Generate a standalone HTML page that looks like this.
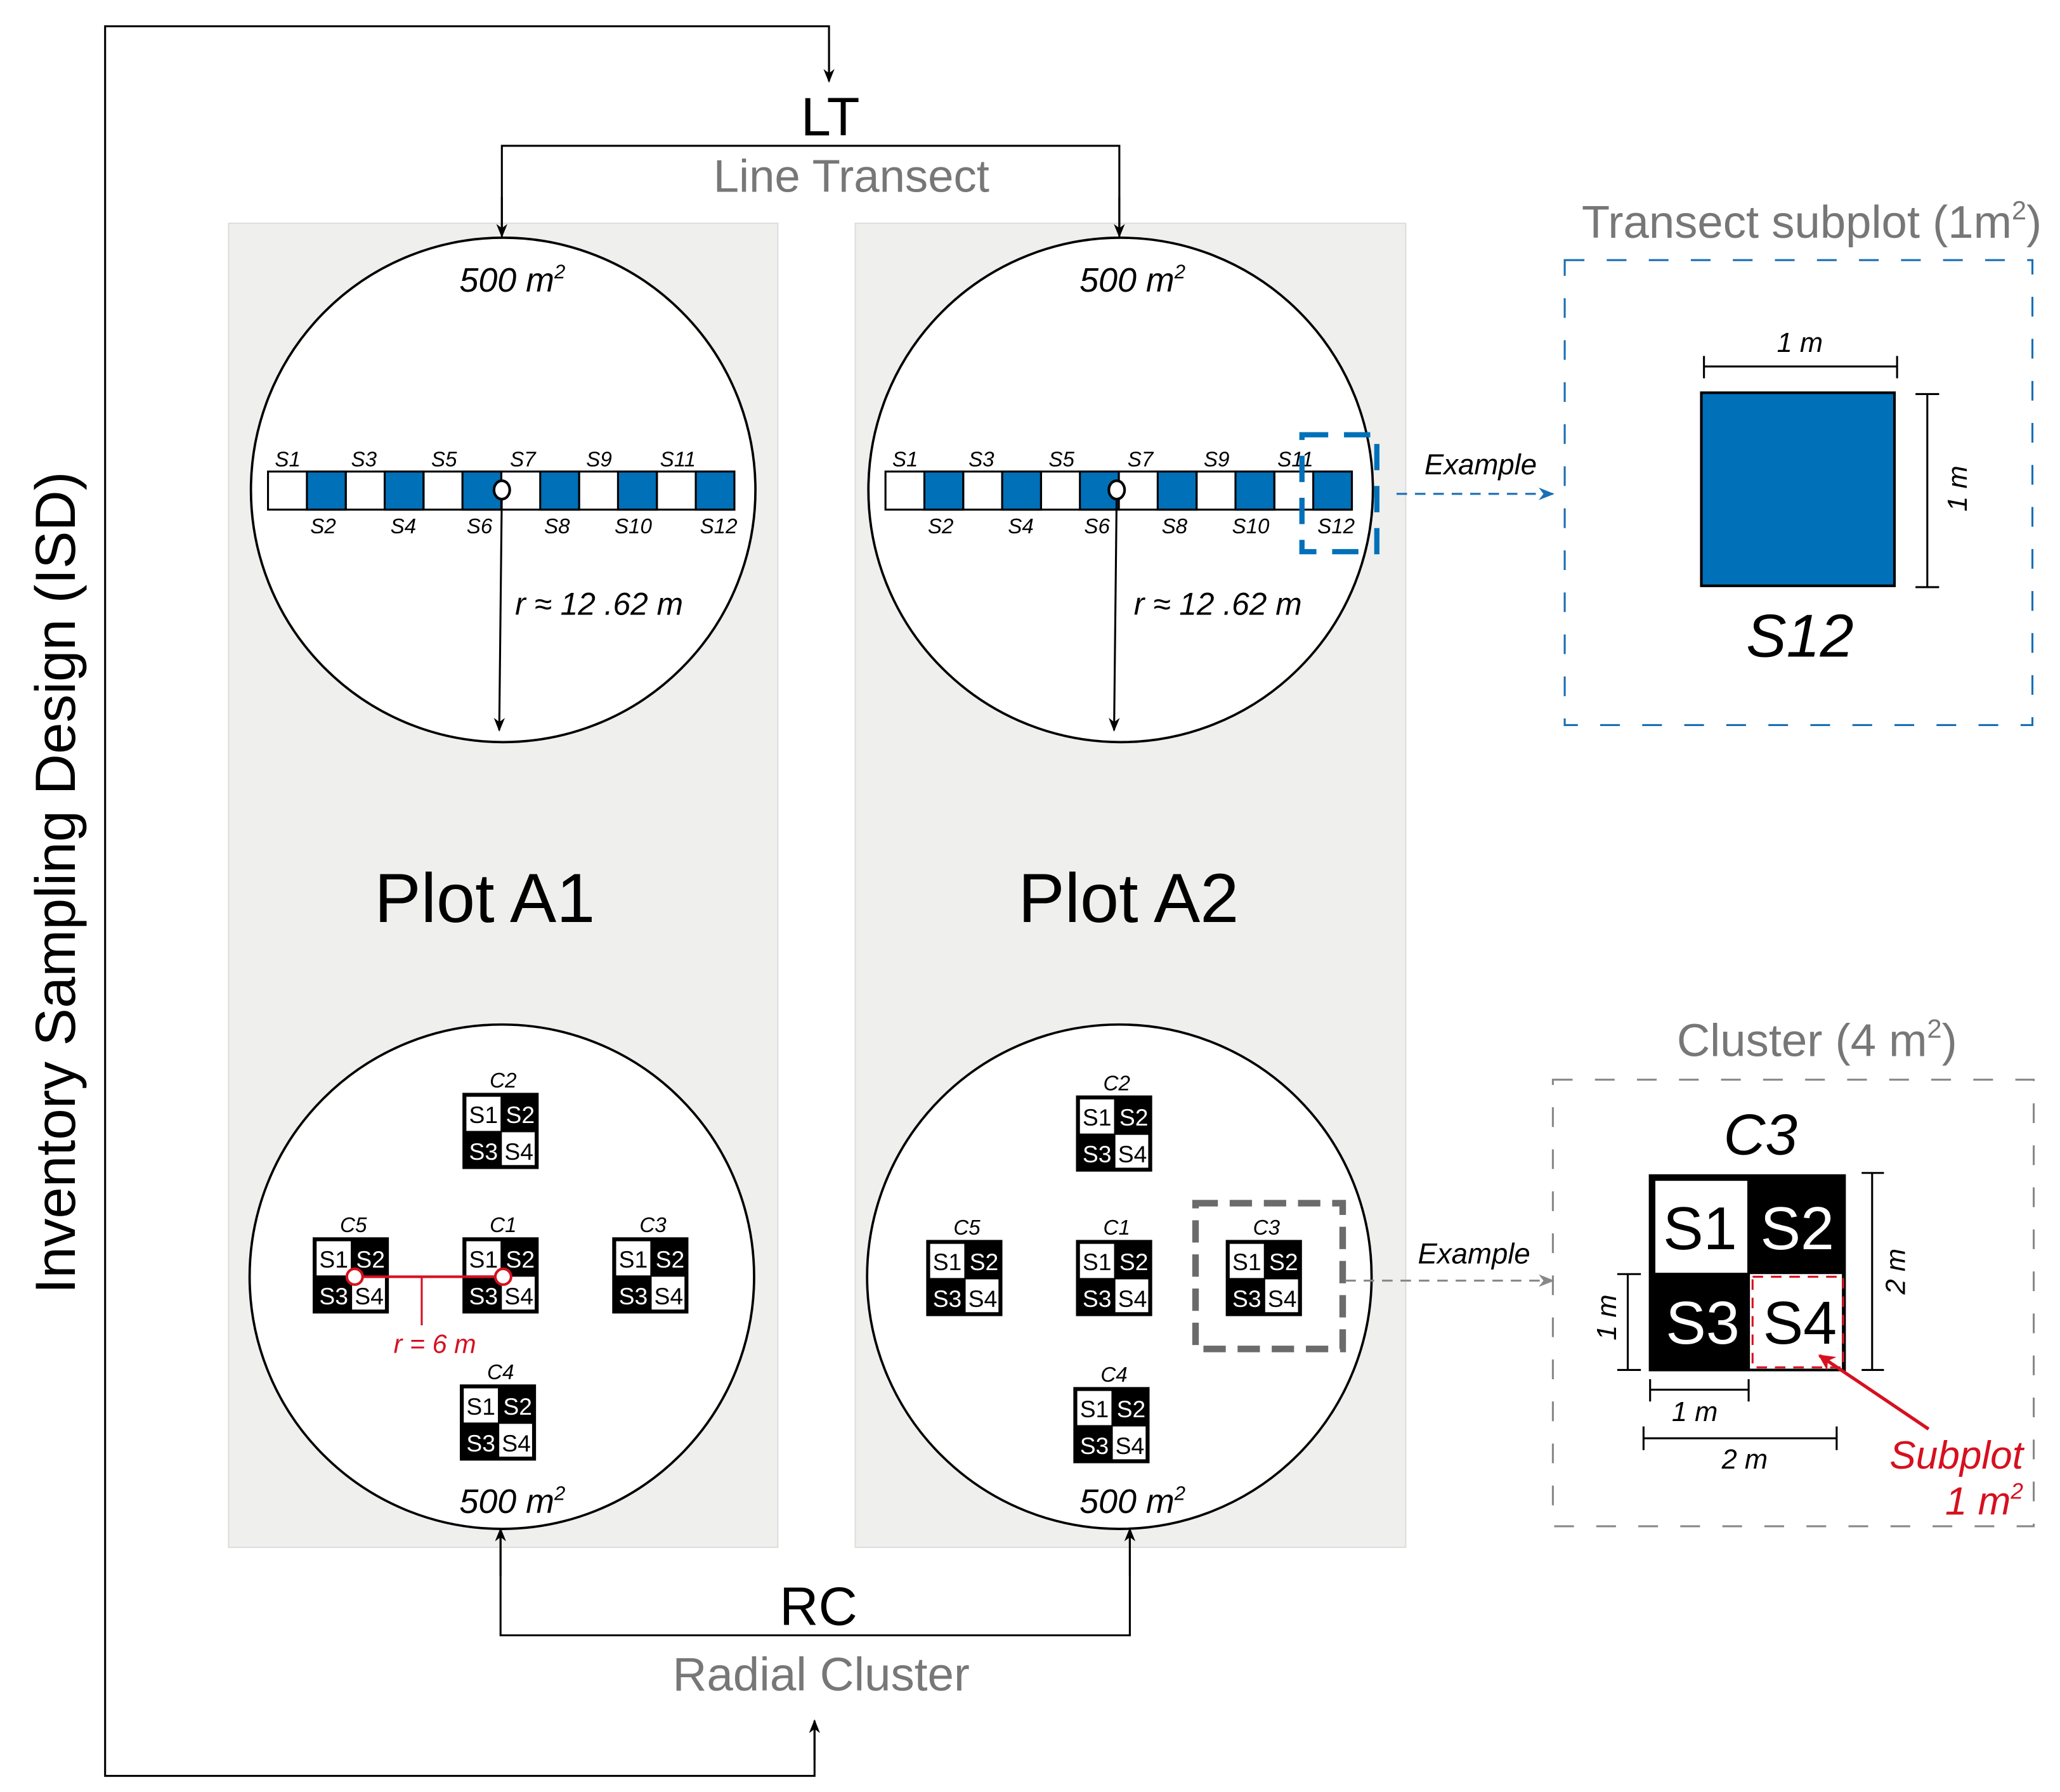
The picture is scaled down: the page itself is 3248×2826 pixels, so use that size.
<!DOCTYPE html>
<html><head><meta charset="utf-8"><style>html,body{margin:0;padding:0;background:#fff}svg{display:block}</style></head>
<body>
<svg width="3248" height="2826" viewBox="0 0 1568 1364.3" preserveAspectRatio="none" xmlns="http://www.w3.org/2000/svg" font-family="Liberation Sans, Arial, sans-serif">
<defs>
<marker id="ak" viewBox="0 0 10 10" refX="9" refY="5" markerWidth="7" markerHeight="7" orient="auto"><path d="M0,1 L10,5 L0,9 L3,5 z" fill="#000"/></marker>
<marker id="ab" viewBox="0 0 10 10" refX="9" refY="5" markerWidth="8" markerHeight="8" orient="auto"><path d="M0,1 L10,5 L0,9 L3,5 z" fill="#1a6fb5"/></marker>
<marker id="ag" viewBox="0 0 10 10" refX="9" refY="5" markerWidth="8" markerHeight="8" orient="auto"><path d="M0,1 L10,5 L0,9 L3,5 z" fill="#888"/></marker>
<marker id="ar" viewBox="0 0 10 10" refX="9" refY="5" markerWidth="5" markerHeight="5" orient="auto"><path d="M0,0 L10,5 L0,10 L3,5 z" fill="#d6101f"/></marker>
</defs>
<rect width="1568" height="1365" fill="#fff"/>
<rect x="174" y="170" width="418" height="1008" fill="#efefee" stroke="#ddd"/>
<rect x="651" y="170" width="419" height="1008" fill="#efefee" stroke="#ddd"/>
<polyline points="631,60 631,20 80,20 80,1352 620,1352 620,1310" fill="none" stroke="#000" stroke-width="1.5"/>
<line x1="631" y1="30" x2="631" y2="62" stroke="#000" stroke-width="1.5" marker-end="url(#ak)"/>
<line x1="620" y1="1340" x2="620" y2="1310" stroke="#000" stroke-width="1.5" marker-end="url(#ak)"/>
<text transform="translate(57,672) rotate(-90)" text-anchor="middle" font-size="43" fill="#000">Inventory Sampling Design (ISD)</text>
<text x="632" y="103" text-anchor="middle" font-size="41">LT</text>
<text x="648" y="146" text-anchor="middle" font-size="35" fill="#777">Line Transect</text>
<polyline points="382,178 382,111 852,111 852,178" fill="none" stroke="#000" stroke-width="1.5"/>
<line x1="382" y1="150" x2="382" y2="180" stroke="#000" stroke-width="1.5" marker-end="url(#ak)"/>
<line x1="852" y1="150" x2="852" y2="180" stroke="#000" stroke-width="1.5" marker-end="url(#ak)"/>
<text x="623" y="1237" text-anchor="middle" font-size="41">RC</text>
<text x="625" y="1287" text-anchor="middle" font-size="36" fill="#777">Radial Cluster</text>
<polyline points="381,1166 381,1245 860,1245 860,1166" fill="none" stroke="#000" stroke-width="1.5"/>
<line x1="381" y1="1200" x2="381" y2="1164" stroke="#000" stroke-width="1.5" marker-end="url(#ak)"/>
<line x1="860" y1="1200" x2="860" y2="1164" stroke="#000" stroke-width="1.5" marker-end="url(#ak)"/>

<circle cx="383" cy="373" r="192" fill="#fff" stroke="#000" stroke-width="1.8"/>
<circle cx="853" cy="373" r="192" fill="#fff" stroke="#000" stroke-width="1.8"/>
<circle cx="382" cy="972" r="192" fill="#fff" stroke="#000" stroke-width="1.8"/>
<circle cx="852" cy="972" r="192" fill="#fff" stroke="#000" stroke-width="1.8"/>
<text x="390" y="222" text-anchor="middle" font-size="26" font-style="italic">500 m<tspan font-size="15" dy="-10">2</tspan></text>
<text x="862" y="222" text-anchor="middle" font-size="26" font-style="italic">500 m<tspan font-size="15" dy="-10">2</tspan></text>
<text x="390" y="1152" text-anchor="middle" font-size="26" font-style="italic">500 m<tspan font-size="15" dy="-10">2</tspan></text>
<text x="862" y="1152" text-anchor="middle" font-size="26" font-style="italic">500 m<tspan font-size="15" dy="-10">2</tspan></text>
<text x="369" y="702" text-anchor="middle" font-size="53">Plot A1</text>
<text x="859" y="702" text-anchor="middle" font-size="53">Plot A2</text>

<g stroke="#000" stroke-width="1.5">
<rect x="204" y="359" width="355" height="29" fill="#fff"/>
<rect x="233.6" y="359" width="29.6" height="29" fill="#0070b8"/>
<rect x="292.8" y="359" width="29.6" height="29" fill="#0070b8"/>
<rect x="352" y="359" width="29.6" height="29" fill="#0070b8"/>
<rect x="411.2" y="359" width="29.6" height="29" fill="#0070b8"/>
<rect x="470.4" y="359" width="29.6" height="29" fill="#0070b8"/>
<rect x="529.6" y="359" width="29.4" height="29" fill="#0070b8"/>
<line x1="263.2" y1="359" x2="263.2" y2="388"/><line x1="322.4" y1="359" x2="322.4" y2="388"/><line x1="381.6" y1="359" x2="381.6" y2="388"/><line x1="440.8" y1="359" x2="440.8" y2="388"/><line x1="500" y1="359" x2="500" y2="388"/>
</g>
<g stroke="#000" stroke-width="1.5">
<rect x="674" y="359" width="355" height="29" fill="#fff"/>
<rect x="703.6" y="359" width="29.6" height="29" fill="#0070b8"/>
<rect x="762.8" y="359" width="29.6" height="29" fill="#0070b8"/>
<rect x="822" y="359" width="29.6" height="29" fill="#0070b8"/>
<rect x="881.2" y="359" width="29.6" height="29" fill="#0070b8"/>
<rect x="940.4" y="359" width="29.6" height="29" fill="#0070b8"/>
<rect x="999.6" y="359" width="29.4" height="29" fill="#0070b8"/>
<line x1="733.2" y1="359" x2="733.2" y2="388"/><line x1="792.4" y1="359" x2="792.4" y2="388"/><line x1="851.6" y1="359" x2="851.6" y2="388"/><line x1="910.8" y1="359" x2="910.8" y2="388"/><line x1="970" y1="359" x2="970" y2="388"/>
</g>
<g font-size="16" font-style="italic" text-anchor="middle">
<text x="219" y="355">S1</text><text x="277" y="355">S3</text><text x="338" y="355">S5</text><text x="398" y="355">S7</text><text x="456" y="355">S9</text><text x="516" y="355">S11</text>
<text x="246" y="406">S2</text><text x="307" y="406">S4</text><text x="365" y="406">S6</text><text x="424" y="406">S8</text><text x="482" y="406">S10</text><text x="547" y="406">S12</text>
<text x="689" y="355">S1</text><text x="747" y="355">S3</text><text x="808" y="355">S5</text><text x="868" y="355">S7</text><text x="926" y="355">S9</text><text x="986" y="355">S11</text>
<text x="716" y="406">S2</text><text x="777" y="406">S4</text><text x="835" y="406">S6</text><text x="894" y="406">S8</text><text x="952" y="406">S10</text><text x="1017" y="406">S12</text>
</g>
<line x1="382" y1="373" x2="380" y2="556" stroke="#000" stroke-width="1.5" marker-end="url(#ak)"/>
<line x1="850" y1="373" x2="848" y2="556" stroke="#000" stroke-width="1.5" marker-end="url(#ak)"/>
<ellipse cx="382" cy="373" rx="6" ry="7" fill="#fff" stroke="#000" stroke-width="2"/>
<ellipse cx="850" cy="373" rx="6" ry="7" fill="#fff" stroke="#000" stroke-width="2"/>
<text x="456" y="468" text-anchor="middle" font-size="24" font-style="italic">r  ≈  12 .62 m</text>
<text x="927" y="468" text-anchor="middle" font-size="24" font-style="italic">r  ≈  12 .62 m</text>

<rect x="991" y="331" width="57" height="89" fill="none" stroke="#0070b8" stroke-width="4" stroke-dasharray="20,12"/>
<line x1="1063" y1="376" x2="1182" y2="376" stroke="#1a6fb5" stroke-width="1.5" stroke-dasharray="8,6" marker-end="url(#ab)"/>
<text x="1127" y="361" text-anchor="middle" font-size="22" font-style="italic">Example</text>
<text x="1379" y="181" text-anchor="middle" font-size="35" fill="#777">Transect subplot (1m<tspan font-size="20" dy="-14">2</tspan><tspan dy="14">)</tspan></text>
<rect x="1191" y="198" width="356" height="354" fill="none" stroke="#1a6fb5" stroke-width="1.5" stroke-dasharray="15,17"/>
<rect x="1295" y="299" width="147" height="147" fill="#0070b8" stroke="#000" stroke-width="2"/>
<g stroke="#000" stroke-width="1.5">
<line x1="1297" y1="279" x2="1444" y2="279"/><line x1="1297" y1="271" x2="1297" y2="288"/><line x1="1444" y1="271" x2="1444" y2="288"/>
<line x1="1467" y1="300" x2="1467" y2="447"/><line x1="1458" y1="300" x2="1476" y2="300"/><line x1="1458" y1="447" x2="1476" y2="447"/>
</g>
<text x="1370" y="268" text-anchor="middle" font-size="21" font-style="italic">1 m</text>
<text transform="translate(1497,372) rotate(-90)" text-anchor="middle" font-size="21" font-style="italic">1 m</text>
<text x="1370" y="500" text-anchor="middle" font-size="46" font-style="italic">S12</text>

<g font-size="18" text-anchor="middle">
<g transform="translate(352,832)"><rect width="58" height="58"/><rect x="3" y="3" width="26" height="26" fill="#fff"/><rect x="30" y="30" width="25" height="25" fill="#fff"/><text x="16" y="23">S1</text><text x="44" y="23" fill="#fff">S2</text><text x="16" y="51" fill="#fff">S3</text><text x="43" y="51">S4</text><text x="31" y="-4" font-size="16" font-style="italic">C2</text></g>
<g transform="translate(238,942)"><rect width="58" height="58"/><rect x="3" y="3" width="26" height="26" fill="#fff"/><rect x="30" y="30" width="25" height="25" fill="#fff"/><text x="16" y="23">S1</text><text x="44" y="23" fill="#fff">S2</text><text x="16" y="51" fill="#fff">S3</text><text x="43" y="51">S4</text><text x="31" y="-4" font-size="16" font-style="italic">C5</text></g>
<g transform="translate(352,942)"><rect width="58" height="58"/><rect x="3" y="3" width="26" height="26" fill="#fff"/><rect x="30" y="30" width="25" height="25" fill="#fff"/><text x="16" y="23">S1</text><text x="44" y="23" fill="#fff">S2</text><text x="16" y="51" fill="#fff">S3</text><text x="43" y="51">S4</text><text x="31" y="-4" font-size="16" font-style="italic">C1</text></g>
<g transform="translate(466,942)"><rect width="58" height="58"/><rect x="3" y="3" width="26" height="26" fill="#fff"/><rect x="30" y="30" width="25" height="25" fill="#fff"/><text x="16" y="23">S1</text><text x="44" y="23" fill="#fff">S2</text><text x="16" y="51" fill="#fff">S3</text><text x="43" y="51">S4</text><text x="31" y="-4" font-size="16" font-style="italic">C3</text></g>
<g transform="translate(350,1054)"><rect width="58" height="58"/><rect x="3" y="3" width="26" height="26" fill="#fff"/><rect x="30" y="30" width="25" height="25" fill="#fff"/><text x="16" y="23">S1</text><text x="44" y="23" fill="#fff">S2</text><text x="16" y="51" fill="#fff">S3</text><text x="43" y="51">S4</text><text x="31" y="-4" font-size="16" font-style="italic">C4</text></g>
<g transform="translate(819,834)"><rect width="58" height="58"/><rect x="3" y="3" width="26" height="26" fill="#fff"/><rect x="30" y="30" width="25" height="25" fill="#fff"/><text x="16" y="23">S1</text><text x="44" y="23" fill="#fff">S2</text><text x="16" y="51" fill="#fff">S3</text><text x="43" y="51">S4</text><text x="31" y="-4" font-size="16" font-style="italic">C2</text></g>
<g transform="translate(705,944)"><rect width="58" height="58"/><rect x="3" y="3" width="26" height="26" fill="#fff"/><rect x="30" y="30" width="25" height="25" fill="#fff"/><text x="16" y="23">S1</text><text x="44" y="23" fill="#fff">S2</text><text x="16" y="51" fill="#fff">S3</text><text x="43" y="51">S4</text><text x="31" y="-4" font-size="16" font-style="italic">C5</text></g>
<g transform="translate(819,944)"><rect width="58" height="58"/><rect x="3" y="3" width="26" height="26" fill="#fff"/><rect x="30" y="30" width="25" height="25" fill="#fff"/><text x="16" y="23">S1</text><text x="44" y="23" fill="#fff">S2</text><text x="16" y="51" fill="#fff">S3</text><text x="43" y="51">S4</text><text x="31" y="-4" font-size="16" font-style="italic">C1</text></g>
<g transform="translate(933,944)"><rect width="58" height="58"/><rect x="3" y="3" width="26" height="26" fill="#fff"/><rect x="30" y="30" width="25" height="25" fill="#fff"/><text x="16" y="23">S1</text><text x="44" y="23" fill="#fff">S2</text><text x="16" y="51" fill="#fff">S3</text><text x="43" y="51">S4</text><text x="31" y="-4" font-size="16" font-style="italic">C3</text></g>
<g transform="translate(817,1056)"><rect width="58" height="58"/><rect x="3" y="3" width="26" height="26" fill="#fff"/><rect x="30" y="30" width="25" height="25" fill="#fff"/><text x="16" y="23">S1</text><text x="44" y="23" fill="#fff">S2</text><text x="16" y="51" fill="#fff">S3</text><text x="43" y="51">S4</text><text x="31" y="-4" font-size="16" font-style="italic">C4</text></g>
</g>
<line x1="270" y1="972" x2="383" y2="972" stroke="#d6101f" stroke-width="2"/>
<line x1="321" y1="972" x2="321" y2="1009" stroke="#d6101f" stroke-width="1.5"/>
<circle cx="270" cy="972" r="6" fill="#fff" stroke="#d6101f" stroke-width="2"/>
<circle cx="383" cy="972" r="6" fill="#fff" stroke="#d6101f" stroke-width="2"/>
<text x="331" y="1030" text-anchor="middle" font-size="20" font-style="italic" fill="#d6101f">r  = 6 m</text>

<rect x="910" y="916" width="112" height="111" fill="none" stroke="#6b6b6b" stroke-width="5" stroke-dasharray="17,9"/>
<line x1="1024" y1="975" x2="1182" y2="975" stroke="#888" stroke-width="1.5" stroke-dasharray="8,6" marker-end="url(#ag)"/>
<text x="1122" y="962" text-anchor="middle" font-size="22" font-style="italic">Example</text>
<text x="1383" y="804" text-anchor="middle" font-size="35" fill="#777">Cluster (4 m<tspan font-size="20" dy="-14">2</tspan><tspan dy="14">)</tspan></text>
<rect x="1182" y="822" width="366" height="340" fill="none" stroke="#888" stroke-width="1.5" stroke-dasharray="15,17"/>
<text x="1340" y="879" text-anchor="middle" font-size="44" font-style="italic">C3</text>
<rect x="1255" y="894" width="150" height="150" fill="#000"/>
<rect x="1260" y="899" width="70" height="70" fill="#fff"/>
<rect x="1332" y="970" width="70" height="72" fill="#fff"/>
<rect x="1334" y="972" width="69" height="69" fill="none" stroke="#d6101f" stroke-width="1.5" stroke-dasharray="8,6"/>
<g font-size="46" text-anchor="middle"><text x="1294" y="951">S1</text><text x="1368" y="951" fill="#fff">S2</text><text x="1296" y="1023" fill="#fff">S3</text><text x="1370" y="1023">S4</text></g>
<g stroke="#000" stroke-width="1.5">
<line x1="1425" y1="893" x2="1425" y2="1043"/><line x1="1417" y1="893" x2="1434" y2="893"/><line x1="1417" y1="1043" x2="1434" y2="1043"/>
<line x1="1239" y1="970" x2="1239" y2="1043"/><line x1="1231" y1="970" x2="1249" y2="970"/><line x1="1231" y1="1043" x2="1249" y2="1043"/>
<line x1="1256" y1="1058" x2="1331" y2="1058"/><line x1="1256" y1="1050" x2="1256" y2="1067"/><line x1="1331" y1="1050" x2="1331" y2="1067"/>
<line x1="1251" y1="1095" x2="1398" y2="1095"/><line x1="1251" y1="1086" x2="1251" y2="1104"/><line x1="1398" y1="1086" x2="1398" y2="1104"/>
</g>
<text transform="translate(1450,968) rotate(-90)" text-anchor="middle" font-size="21" font-style="italic">2 m</text>
<text transform="translate(1230,1003) rotate(-90)" text-anchor="middle" font-size="21" font-style="italic">1 m</text>
<text x="1290" y="1082" text-anchor="middle" font-size="21" font-style="italic">1 m</text>
<text x="1328" y="1118" text-anchor="middle" font-size="21" font-style="italic">2 m</text>
<line x1="1468" y1="1088" x2="1385" y2="1032" stroke="#d6101f" stroke-width="2.5" marker-end="url(#ar)"/>
<text x="1540" y="1118" text-anchor="end" font-size="30" font-style="italic" fill="#d6101f">Subplot</text>
<text x="1540" y="1153" text-anchor="end" font-size="30" font-style="italic" fill="#d6101f">1 m<tspan font-size="17" dy="-12">2</tspan></text>
</svg>
</body></html>
